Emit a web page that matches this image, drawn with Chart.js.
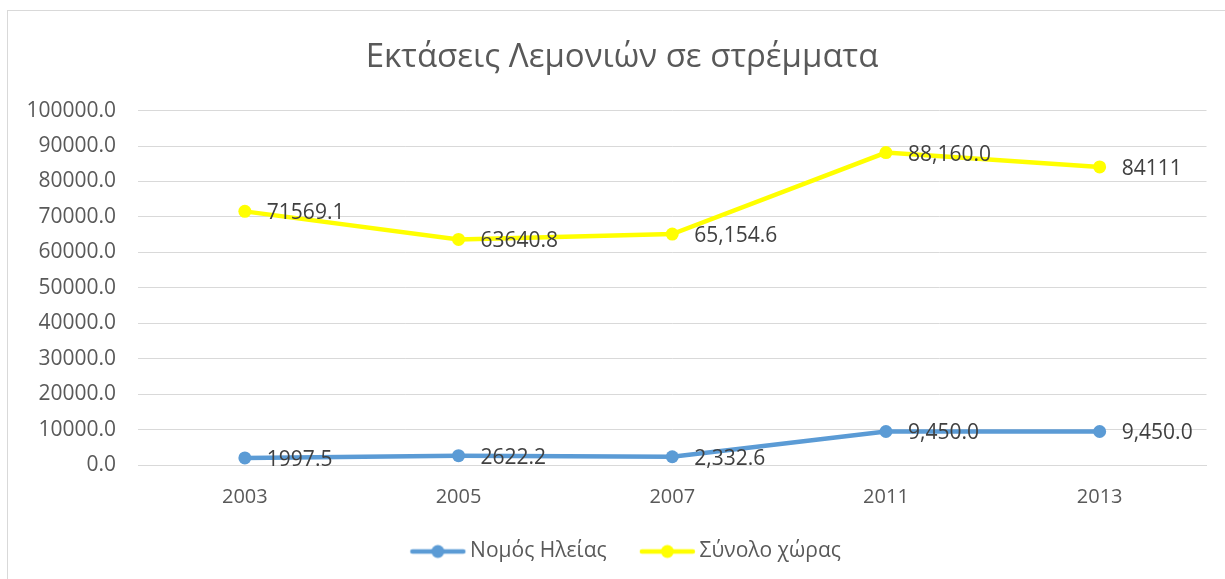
<!DOCTYPE html>
<html>
<head>
<meta charset="utf-8">
<script src="https://cdn.jsdelivr.net/npm/chart.js@4.4.1/dist/chart.umd.min.js"></script>
<style>
  html, body { margin: 0; padding: 0; background: #ffffff; overflow: hidden; }
  #wrap { position: relative; width: 1225px; height: 579px; overflow: hidden; }
  #frame { position: absolute; left: 7px; top: 10px; width: 1240px; height: 600px; border: 1px solid #d9d9d9; box-sizing: border-box; pointer-events: none; }
  canvas { position: absolute; left: 0; top: 0; }
</style>
</head>
<body>
<div id="wrap">
  <div id="frame"></div>
  <canvas id="c" width="1213" height="579"></canvas>
</div>
<script>
const titleText = 'Εκτάσεις Λεμονιών σε στρέμματα';
const categories = ['2003', '2005', '2007', '2011', '2013'];
const seriesNames = ['Νομός Ηλείας', 'Σύνολο χώρας'];
const ileiaValues = [1997.5, 2622.2, 2332.6, 9450.0, 9450.0];
const totalValues = [71569.1, 63640.8, 65154.6, 88160.0, 84111];
const ileiaLabels = ['1997.5', '2622.2', '2,332.6', '9,450.0', '9,450.0'];
const totalLabels = ['71569.1', '63640.8', '65,154.6', '88,160.0', '84111'];
const yMin = 0, yMax = 100000, yStep = 10000;

const BLUE = '#5B9BD5';
const YELLOW = '#FFFF00';
const FONT = "'Open Sans', 'Noto Sans', sans-serif";

function legendIcon(color) {
  const cv = document.createElement('canvas');
  cv.width = 72; cv.height = 16;
  const g = cv.getContext('2d');
  g.strokeStyle = color; g.lineWidth = 4.5; g.lineCap = 'round';
  g.beginPath(); g.moveTo(17, 8); g.lineTo(68, 8); g.stroke();
  g.fillStyle = color;
  g.beginPath(); g.arc(42.5, 8, 6.5, 0, Math.PI * 2); g.fill();
  return cv;
}
const icons = [legendIcon(BLUE), legendIcon(YELLOW)];
const allLabels = [ileiaLabels, totalLabels];

const dataLabelPlugin = {
  id: 'dataLabels',
  afterLayout(chart) {
    // let the y tick labels extend into the left margin without clipping
    chart.scales.y.left = 0;
  },
  afterDatasetsDraw(chart) {
    const ctx = chart.ctx;
    ctx.save();
    ctx.font = "21px " + FONT;
    ctx.fillStyle = '#404040';
    ctx.textAlign = 'left';
    ctx.textBaseline = 'middle';
    chart.data.datasets.forEach((ds, di) => {
      const meta = chart.getDatasetMeta(di);
      meta.data.forEach((pt, i) => {
        ctx.fillText(allLabels[di][i], pt.x + 22, pt.y + 2);
      });
    });
    ctx.restore();
  }
};

new Chart(document.getElementById('c'), {
  type: 'line',
  data: {
    labels: categories,
    datasets: [
      { label: seriesNames[0], data: ileiaValues, borderColor: BLUE, backgroundColor: BLUE,
        borderWidth: 4.5, pointRadius: 6.5, pointHoverRadius: 6.5, pointBackgroundColor: BLUE,
        pointBorderColor: BLUE, pointBorderWidth: 0, tension: 0, pointStyle: 'circle' },
      { label: seriesNames[1], data: totalValues, borderColor: YELLOW, backgroundColor: YELLOW,
        borderWidth: 4.5, pointRadius: 6.5, pointHoverRadius: 6.5, pointBackgroundColor: YELLOW,
        pointBorderColor: YELLOW, pointBorderWidth: 0, tension: 0, pointStyle: 'circle' }
    ]
  },
  options: {
    responsive: false,
    animation: false,
    devicePixelRatio: 1,
    layout: { padding: { left: 31, right: 0, top: 0, bottom: 7 } },
    plugins: {
      tooltip: { enabled: false },
      title: {
        display: true, text: titleText, color: '#595959',
        font: { family: FONT, size: 33, weight: '400', lineHeight: 1.2 },
        padding: { top: 38, bottom: 33 }
      },
      legend: {
        position: 'bottom',
        labels: {
          color: '#595959',
          font: { family: FONT, size: 21 },
          usePointStyle: true,
          pointStyleWidth: 56.5,
          padding: 26,
          generateLabels(chart) {
            return chart.data.datasets.map((ds, i) => ({
              text: ds.label, fillStyle: ds.borderColor, strokeStyle: ds.borderColor,
              lineWidth: 0, pointStyle: icons[i], hidden: false, datasetIndex: i, fontColor: '#595959'
            }));
          }
        }
      }
    },
    scales: {
      x: {
        offset: true,
        grid: { display: false, drawTicks: false },
        border: { display: true, color: '#d9d9d9', width: 1 },
        ticks: { color: '#595959', font: { family: FONT, size: 20 }, padding: 20, maxRotation: 0 },
        afterFit(scale) { scale.height = 50; }
      },
      y: {
        min: yMin, max: yMax,
        grid: { color: '#d9d9d9', lineWidth: 1, drawTicks: false },
        border: { display: false },
        ticks: { stepSize: yStep, color: '#595959', font: { family: FONT, size: 21 }, padding: 22,
          callback: (v) => Number(v).toFixed(1) },
        afterFit(scale) { scale.width = 107; }
      }
    }
  },
  plugins: [dataLabelPlugin]
});
</script>
</body>
</html>
